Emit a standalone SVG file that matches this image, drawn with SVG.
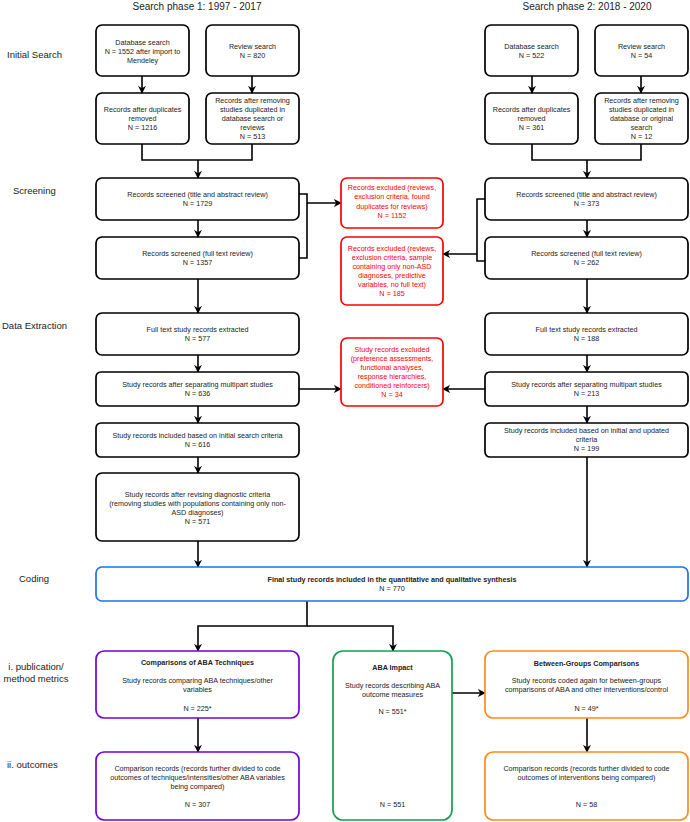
<svg xmlns="http://www.w3.org/2000/svg" width="690" height="822" viewBox="0 0 690 822">
<style>
.b{fill:#fff;stroke:#000;stroke-width:1.7}
.r{fill:#fff;stroke:#ff0000;stroke-width:1.7}
.bl{fill:#fff;stroke:#1a73e8;stroke-width:1.7}
.pu{fill:#fff;stroke:#7000dd;stroke-width:1.7}
.gr{fill:#fff;stroke:#13a050;stroke-width:1.7}
.or{fill:#fff;stroke:#ff8a1a;stroke-width:1.7}
text{font-family:"Liberation Sans",Arial,sans-serif;text-anchor:middle}
.t{font-size:7.2px;fill:#222}
.tr{font-size:7.2px;fill:#ff0000}
.tb{font-size:7.2px;fill:#222;font-weight:bold}
.h{font-size:10px;fill:#222}
.l{font-size:9.5px;fill:#222;text-anchor:start}
.c line,.c polyline{fill:none;stroke:#000;stroke-width:1.6}
</style>
<defs>
<marker id="a" viewBox="0 0 10 10" refX="9" refY="5" markerWidth="8" markerHeight="8" markerUnits="userSpaceOnUse" orient="auto">
<path d="M0,0 L10,5 L0,10 L3,5 z" fill="#000"/>
</marker>
</defs>
<g id="titles">
<text class="h" x="197" y="10">Search phase 1: 1997 - 2017</text>
<text class="h" x="587" y="10">Search phase 2: 2018 - 2020</text>
</g>
<g id="stage-labels">
<text class="l" x="7" y="58">Initial Search</text>
<text class="l" x="13" y="194">Screening</text>
<text class="l" x="2" y="329">Data Extraction</text>
<text class="l" x="19" y="582">Coding</text>
<text class="l" x="36" y="670" style="text-anchor:middle">i. publication/</text>
<text class="l" x="36" y="682" style="text-anchor:middle">method metrics</text>
<text class="l" x="7" y="768">ii. outcomes</text>
</g>

<g class="c" id="connectors">
<line x1="142" y1="76" x2="142" y2="93" marker-end="url(#a)"/>
<line x1="252" y1="76" x2="252" y2="93" marker-end="url(#a)"/>
<polyline points="142,144 142,160 252,160 252,144"/>
<line x1="198" y1="160" x2="198" y2="178" marker-end="url(#a)"/>
<line x1="532" y1="76" x2="532" y2="93" marker-end="url(#a)"/>
<line x1="641" y1="76" x2="641" y2="93" marker-end="url(#a)"/>
<polyline points="532,144 532,160 641,160 641,144"/>
<line x1="587" y1="160" x2="587" y2="178" marker-end="url(#a)"/>
<line x1="198" y1="220" x2="198" y2="237" marker-end="url(#a)"/>
<polyline points="299,194 307,194 307,258 299,258"/>
<line x1="307" y1="203" x2="341" y2="203" marker-end="url(#a)"/>
<line x1="587" y1="220" x2="587" y2="237" marker-end="url(#a)"/>
<polyline points="485,199 477,199 477,261 485,261"/>
<line x1="477" y1="254" x2="443" y2="254" marker-end="url(#a)"/>
<line x1="198" y1="279" x2="198" y2="313" marker-end="url(#a)"/>
<line x1="587" y1="279" x2="587" y2="313" marker-end="url(#a)"/>
<line x1="198" y1="355" x2="198" y2="372" marker-end="url(#a)"/>
<line x1="198" y1="406" x2="198" y2="423" marker-end="url(#a)"/>
<line x1="198" y1="457" x2="198" y2="473" marker-end="url(#a)"/>
<line x1="198" y1="541" x2="198" y2="567" marker-end="url(#a)"/>
<line x1="299" y1="389" x2="341" y2="389" marker-end="url(#a)"/>
<line x1="485" y1="389" x2="443" y2="389" marker-end="url(#a)"/>
<line x1="587" y1="355" x2="587" y2="372" marker-end="url(#a)"/>
<line x1="587" y1="406" x2="587" y2="423" marker-end="url(#a)"/>
<line x1="587" y1="457" x2="587" y2="567" marker-end="url(#a)"/>
<polyline points="307,601 307,626 198,626 198,651" marker-end="url(#a)"/>
<polyline points="307,626 393,626 393,651" marker-end="url(#a)"/>
<line x1="452" y1="693" x2="485" y2="693" marker-end="url(#a)"/>
<line x1="198" y1="718" x2="198" y2="752" marker-end="url(#a)"/>
<line x1="587" y1="718" x2="587" y2="752" marker-end="url(#a)"/>
</g>

<g id="p1-db"><rect class="b" x="96" y="25" width="93" height="51" rx="6"/>
<text class="t" x="142.5" y="44.5">Database search</text><text class="t" x="142.5" y="53.5">N = 1552 after import to</text><text class="t" x="142.5" y="62.5">Mendeley</text></g>
<g id="p1-rev"><rect class="b" x="206" y="25" width="93" height="51" rx="6"/>
<text class="t" x="252.5" y="48.5">Review search</text><text class="t" x="252.5" y="57.5">N = 820</text></g>
<g id="p1-dup"><rect class="b" x="96" y="93" width="93" height="51" rx="6"/>
<text class="t" x="142.5" y="112">Records after duplicates</text><text class="t" x="142.5" y="121">removed</text><text class="t" x="142.5" y="130">N = 1216</text></g>
<g id="p1-revdup"><rect class="b" x="206" y="93" width="93" height="51" rx="6"/>
<text class="t" x="252.5" y="102.5">Records after removing</text><text class="t" x="252.5" y="111.5">studies duplicated in</text><text class="t" x="252.5" y="120.5">database search or</text><text class="t" x="252.5" y="129.5">reviews</text><text class="t" x="252.5" y="138.5">N = 513</text></g>

<g id="p2-db"><rect class="b" x="485" y="25" width="93" height="51" rx="6"/>
<text class="t" x="531.5" y="48.5">Database search</text><text class="t" x="531.5" y="57.5">N = 522</text></g>
<g id="p2-rev"><rect class="b" x="595" y="25" width="93" height="51" rx="6"/>
<text class="t" x="641.5" y="48.5">Review search</text><text class="t" x="641.5" y="57.5">N = 54</text></g>
<g id="p2-dup"><rect class="b" x="485" y="93" width="93" height="51" rx="6"/>
<text class="t" x="531.5" y="112">Records after duplicates</text><text class="t" x="531.5" y="121">removed</text><text class="t" x="531.5" y="130">N = 361</text></g>
<g id="p2-revdup"><rect class="b" x="595" y="93" width="93" height="51" rx="6"/>
<text class="t" x="641.5" y="102.5">Records after removing</text><text class="t" x="641.5" y="111.5">studies duplicated in</text><text class="t" x="641.5" y="120.5">database or original</text><text class="t" x="641.5" y="129.5">search</text><text class="t" x="641.5" y="138.5">N = 12</text></g>

<g id="p1-screen1"><rect class="b" x="96" y="178" width="203" height="42" rx="6"/>
<text class="t" x="197.5" y="196.5">Records screened (title and abstract review)</text><text class="t" x="197.5" y="205.5">N = 1729</text></g>
<g id="p1-screen2"><rect class="b" x="96" y="237" width="203" height="42" rx="6"/>
<text class="t" x="197.5" y="255.5">Records screened (full text review)</text><text class="t" x="197.5" y="264.5">N = 1357</text></g>
<g id="p2-screen1"><rect class="b" x="485" y="178" width="203" height="42" rx="6"/>
<text class="t" x="586.5" y="196.5">Records screened (title and abstract review)</text><text class="t" x="586.5" y="205.5">N = 373</text></g>
<g id="p2-screen2"><rect class="b" x="485" y="237" width="203" height="42" rx="6"/>
<text class="t" x="586.5" y="255.5">Records screened (full text review)</text><text class="t" x="586.5" y="264.5">N = 262</text></g>

<g id="excl1"><rect class="r" x="341" y="178" width="102" height="50" rx="6"/>
<text class="tr" x="392" y="189.5">Records excluded (reviews,</text><text class="tr" x="392" y="199">exclusion criteria, found</text><text class="tr" x="392" y="208.5">duplicates for reviews)</text><text class="tr" x="392" y="218">N = 1152</text></g>
<g id="excl2"><rect class="r" x="341" y="237" width="102" height="68" rx="6"/>
<text class="tr" x="392" y="250.5">Records excluded (reviews,</text><text class="tr" x="392" y="259.5">exclusion criteria, sample</text><text class="tr" x="392" y="268.5">containing only non-ASD</text><text class="tr" x="392" y="277.5">diagnoses, predictive</text><text class="tr" x="392" y="286.5">variables, no full text)</text><text class="tr" x="392" y="295.5">N = 185</text></g>
<g id="excl3"><rect class="r" x="341" y="338" width="102" height="68" rx="6"/>
<text class="tr" x="392" y="351.5">Study records excluded</text><text class="tr" x="392" y="360.5">(preference assessments,</text><text class="tr" x="392" y="369.5">functional analyses,</text><text class="tr" x="392" y="378.5">response hierarchies,</text><text class="tr" x="392" y="387.5">conditioned reinforcers)</text><text class="tr" x="392" y="396.5">N = 34</text></g>

<g id="p1-full"><rect class="b" x="96" y="313" width="203" height="42" rx="6"/>
<text class="t" x="197.5" y="331.5">Full text study records extracted</text><text class="t" x="197.5" y="340.5">N = 577</text></g>
<g id="p1-sep"><rect class="b" x="96" y="372" width="203" height="34" rx="5"/>
<text class="t" x="197.5" y="386.5">Study records after separating multipart studies</text><text class="t" x="197.5" y="395.5">N = 636</text></g>
<g id="p1-incl"><rect class="b" x="96" y="423" width="203" height="34" rx="5"/>
<text class="t" x="197.5" y="437.5">Study records included based on initial search criteria</text><text class="t" x="197.5" y="446.5">N = 616</text></g>
<g id="p1-revise"><rect class="b" x="96" y="473" width="203" height="68" rx="6"/>
<text class="t" x="197.5" y="496.5">Study records after revising diagnostic criteria</text><text class="t" x="197.5" y="505.5">(removing studies with populations containing only non-</text><text class="t" x="197.5" y="514.5">ASD diagnoses)</text><text class="t" x="197.5" y="523.5">N = 571</text></g>

<g id="p2-full"><rect class="b" x="485" y="313" width="203" height="42" rx="6"/>
<text class="t" x="586.5" y="331.5">Full text study records extracted</text><text class="t" x="586.5" y="340.5">N = 188</text></g>
<g id="p2-sep"><rect class="b" x="485" y="372" width="203" height="34" rx="5"/>
<text class="t" x="586.5" y="386.5">Study records after separating multipart studies</text><text class="t" x="586.5" y="395.5">N = 213</text></g>
<g id="p2-incl"><rect class="b" x="485" y="423" width="203" height="34" rx="5"/>
<text class="t" x="586.5" y="432.5">Study records included based on initial and updated</text><text class="t" x="586.5" y="441.5">criteria</text><text class="t" x="586.5" y="450.5">N = 199</text></g>

<g id="final"><rect class="bl" x="96" y="567" width="592" height="34" rx="6"/>
<text class="tb" x="392" y="581.5">Final study records included in the quantitative and qualitative synthesis</text><text class="t" x="392" y="590.5">N = 770</text></g>

<g id="compare"><rect class="pu" x="96" y="651" width="203" height="67" rx="8"/>
<text class="tb" x="197.5" y="664.5">Comparisons of ABA Techniques</text><text class="t" x="197.5" y="682.5">Study records comparing ABA techniques/other</text><text class="t" x="197.5" y="692">variables</text><text class="t" x="197.5" y="710.5">N = 225*</text></g>
<g id="compare-out"><rect class="pu" x="96" y="752" width="203" height="68" rx="8"/>
<text class="t" x="197.5" y="770.5">Comparison records (records further divided to code</text><text class="t" x="197.5" y="779.5">outcomes of techniques/intensities/other ABA variables</text><text class="t" x="197.5" y="788.5">being compared)</text><text class="t" x="197.5" y="806.5">N = 307</text></g>
<g id="impact"><rect class="gr" x="333" y="651" width="119" height="169" rx="10"/>
<text class="tb" x="392.5" y="669.5">ABA Impact</text><text class="t" x="392.5" y="687.5">Study records describing ABA</text><text class="t" x="392.5" y="697">outcome measures</text><text class="t" x="392.5" y="713.5">N = 551*</text><text class="t" x="392.5" y="806.5">N = 551</text></g>
<g id="between"><rect class="or" x="485" y="651" width="203" height="67" rx="8"/>
<text class="tb" x="586.5" y="665.5">Between-Groups Comparisons</text><text class="t" x="586.5" y="682.5">Study records coded again for between-groups</text><text class="t" x="586.5" y="692">comparisons of ABA and other interventions/control</text><text class="t" x="586.5" y="710.5">N = 49*</text></g>
<g id="between-out"><rect class="or" x="485" y="752" width="203" height="68" rx="8"/>
<text class="t" x="586.5" y="770.5">Comparison records (records further divided to code</text><text class="t" x="586.5" y="779.5">outcomes of interventions being compared)</text><text class="t" x="586.5" y="806.5">N = 58</text></g>
</svg>
